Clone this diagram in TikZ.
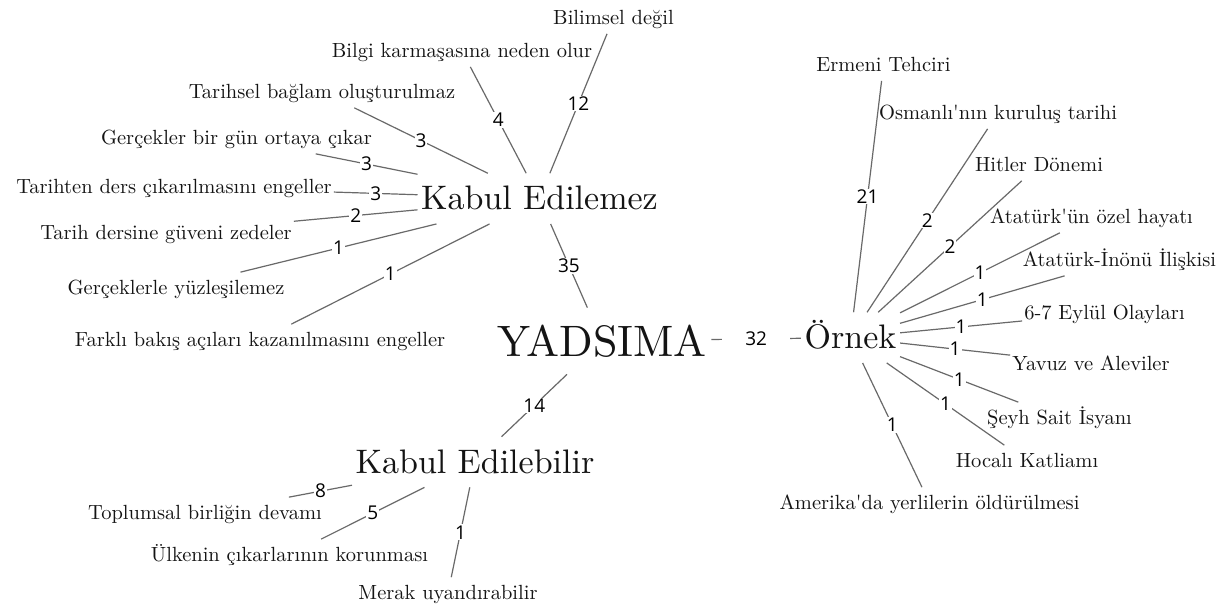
\documentclass[tikz,border=0pt]{standalone}
\usepackage{fontspec}
\setmainfont{lmroman10-regular}[Extension=.otf, Ligatures=TeXOff]
\newfontfamily\numfont{Open Sans}
\definecolor{linegray}{RGB}{105,105,105}
\definecolor{txt}{RGB}{20,20,20}
\tikzset{
  lbl/.style={font=\fontsize{20.5}{24}\selectfont, text=txt, text height=22.5pt, text depth=8.8pt, inner xsep=2pt, inner ysep=0pt},
  big/.style={font=\fontsize{34}{40}\selectfont, text=txt, text height=36.5pt, text depth=13.8pt, inner xsep=3.5pt, inner ysep=0pt},
  root/.style={font=\fontsize{44}{50}\selectfont, text=txt, text height=48.4pt, text depth=18pt, inner xsep=4.4pt, inner ysep=0pt},
  num/.style={font=\numfont\fontsize{19}{22}\selectfont, fill=white, inner sep=1pt, text=black},
  conn/.style={draw=linegray, line width=1.2pt}
}
\begin{document}
\begin{tikzpicture}[x=1pt,y=-1pt]
\useasboundingbox[fill=white] (0,0) rectangle (1223,608);
% central nodes
\node[root] (yad) at (602,341) {YADSIMA};
\node[big] (ke) at (539.5,198.6) {Kabul Edilemez};
\node[big] (kb) at (475,462) {Kabul Edilebilir};
\node[big] (orn) at (850.5,337.6) {Örnek};
% Kabul Edilemez labels
\node[lbl] (a1) at (613.5,18) {Bilimsel değil};
\node[lbl] (a2) at (462,51) {Bilgi karmaşasına neden olur};
\node[lbl] (a3) at (322,92) {Tarihsel bağlam oluşturulmaz};
\node[lbl] (a4) at (236.5,138) {Gerçekler bir gün ortaya çıkar};
\node[lbl] (a5) at (174,187) {Tarihten ders çıkarılmasını engeller};
\node[lbl] (a6) at (166,233) {Tarih dersine güveni zedeler};
\node[lbl] (a7) at (176,288) {Gerçeklerle yüzleşilemez};
\node[lbl] (a8) at (260,340) {Farklı bakış açıları kazanılmasını engeller};
% Kabul Edilebilir labels
\node[lbl] (b1) at (205,513) {Toplumsal birliğin devamı};
\node[lbl] (b2) at (289.5,555) {Ülkenin çıkarlarının korunması};
\node[lbl] (b3) at (448,593) {Merak uyandırabilir};
% Örnek labels
\node[lbl] (c1) at (883.5,65) {Ermeni Tehciri};
\node[lbl] (c2) at (998,113) {Osmanlı'nın kuruluş tarihi};
\node[lbl] (c3) at (1039,165) {Hitler Dönemi};
\node[lbl] (c4) at (1091.5,217) {Atatürk'ün özel hayatı};
\node[lbl] (c5) at (1119.5,260) {Atatürk-İnönü İlişkisi};
\node[lbl] (c6) at (1104.5,313) {6-7 Eylül Olayları};
\node[lbl] (c7) at (1091,364) {Yavuz ve Aleviler};
\node[lbl] (c8) at (1059.5,418) {Şeyh Sait İsyanı};
\node[lbl] (c9) at (1027,461) {Hocalı Katliamı};
\node[lbl] (c10) at (929.5,503) {Amerika'da yerlilerin öldürülmesi};
% main connectors
\draw[conn] (ke) -- node[num] {35} (yad);
\draw[conn] (yad) -- node[num] {14} (kb);
\draw[conn] (yad) -- node[num, minimum width=68pt] {32} (orn);
% Kabul Edilemez connectors
\draw[conn] (ke) -- node[num] {12} (a1);
\draw[conn] (ke) -- node[num] {4} (a2);
\draw[conn] (ke) -- node[num] {3} (a3);
\draw[conn] (ke) -- node[num] {3} (a4);
\draw[conn] (ke) -- node[num] {3} (a5);
\draw[conn] (ke) -- node[num] {2} (a6);
\draw[conn] (ke) -- node[num] {1} (a7);
\draw[conn] (ke) -- node[num] {1} (a8);
% Kabul Edilebilir connectors
\draw[conn] (kb) -- node[num] {8} (b1);
\draw[conn] (kb) -- node[num] {5} (b2);
\draw[conn] (kb) -- node[num] {1} (b3);
% Örnek connectors
\draw[conn] (orn) -- node[num] {21} (c1);
\draw[conn] (orn) -- node[num] {2} (c2);
\draw[conn] (orn) -- node[num] {2} (c3);
\draw[conn] (orn) -- node[num] {1} (c4);
\draw[conn] (orn) -- node[num] {1} (c5);
\draw[conn] (orn) -- node[num] {1} (c6);
\draw[conn] (orn) -- node[num] {1} (c7);
\draw[conn] (orn) -- node[num] {1} (c8);
\draw[conn] (orn) -- node[num] {1} (c9);
\draw[conn] (orn) -- node[num] {1} (c10);
\end{tikzpicture}
\end{document}
